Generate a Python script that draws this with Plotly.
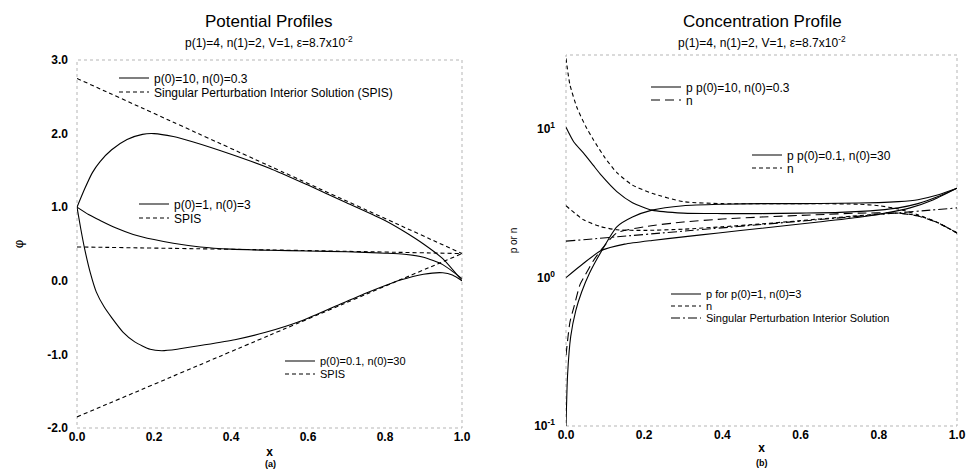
import plotly.graph_objects as go

# ---------------- data: left panel (potential phi) ----------------
xA = [0, 0.02, 0.04, 0.06, 0.09, 0.13, 0.17, 0.2, 0.25, 0.3, 0.4, 0.5, 0.6, 0.7, 0.8, 0.85, 0.9, 0.95, 1.0]
phiA = [1.0, 1.25, 1.47, 1.62, 1.78, 1.92, 1.99, 2.0, 1.96, 1.89, 1.72, 1.53, 1.30, 1.06, 0.82, 0.67, 0.5, 0.3, 0.0]
xA_spis = [0, 0.5, 1.0]
phiA_spis = [2.75, 1.56, 0.37]

xB = [0, 0.03, 0.06, 0.1, 0.146, 0.2, 0.25, 0.32, 0.4, 0.5, 0.6, 0.7, 0.8, 0.85, 0.9, 0.95, 1.0]
phiB = [1.0, 0.9, 0.82, 0.72, 0.63, 0.56, 0.51, 0.46, 0.43, 0.415, 0.405, 0.395, 0.375, 0.36, 0.32, 0.22, 0.03]
xB_spis = [0, 0.5, 1.0]
phiB_spis = [0.46, 0.42, 0.37]

xC = [0, 0.01, 0.02, 0.035, 0.05, 0.07, 0.09, 0.12, 0.15, 0.19, 0.22, 0.26, 0.32, 0.41, 0.49, 0.58, 0.665, 0.75, 0.84, 0.9, 0.95, 0.975, 1.0]
phiC = [1.0, 0.7, 0.43, 0.1, -0.15, -0.35, -0.5, -0.7, -0.83, -0.93, -0.95, -0.93, -0.88, -0.8, -0.7, -0.55, -0.36, -0.17, 0.01, 0.09, 0.11, 0.08, 0.0]
xC_spis = [0, 0.5, 1.0]
phiC_spis = [-1.85, -0.74, 0.37]

# ---------------- data: right panel (concentrations) ----------------
x_p1 = [0, 0.02, 0.045, 0.07, 0.09, 0.13, 0.17, 0.22, 0.3, 0.4, 0.5, 0.6, 0.7, 0.8, 0.85, 0.9, 0.95, 1.0]
p1 = [10.3, 8.2, 6.9, 5.7, 4.9, 3.8, 3.2, 2.85, 2.72, 2.7, 2.7, 2.72, 2.75, 2.85, 2.95, 3.15, 3.5, 4.0]
x_n1 = [0, 0.01, 0.02, 0.036, 0.05, 0.07, 0.095, 0.13, 0.2, 0.3, 0.4, 0.5, 0.64, 0.75, 0.85, 0.9, 0.95, 1.0]
n1 = [0.3, 0.5, 0.63, 0.9, 1.05, 1.3, 1.6, 2.0, 2.2, 2.37, 2.48, 2.56, 2.65, 2.72, 2.72, 2.6, 2.35, 2.0]

x_p2 = [0, 0.004, 0.012, 0.025, 0.04, 0.06, 0.087, 0.13, 0.17, 0.22, 0.3, 0.4, 0.5, 0.6, 0.7, 0.8, 0.85, 0.9, 0.95, 1.0]
p2 = [0.1, 0.22, 0.4, 0.6, 0.8, 1.07, 1.45, 2.2, 2.56, 2.85, 3.05, 3.12, 3.15, 3.15, 3.17, 3.2, 3.25, 3.35, 3.6, 4.0]
x_n2 = [0, 0.01, 0.028, 0.05, 0.07, 0.1, 0.13, 0.17, 0.22, 0.3, 0.4, 0.5, 0.64, 0.75, 0.8, 0.85, 0.9, 0.95, 1.0]
n2 = [30.0, 20.0, 14.0, 10.5, 8.5, 6.4, 5.1, 4.2, 3.7, 3.25, 3.15, 3.15, 3.15, 3.12, 3.05, 2.9, 2.65, 2.35, 2.0]

x_p3 = [0, 0.045, 0.09, 0.15, 0.22, 0.3, 0.39, 0.5, 0.64, 0.75, 0.81, 0.88, 0.94, 1.0]
p3 = [1.0, 1.25, 1.52, 1.68, 1.78, 1.88, 2.0, 2.15, 2.36, 2.55, 2.7, 2.95, 3.35, 4.0]
x_n3 = [0, 0.045, 0.09, 0.13, 0.2, 0.3, 0.4, 0.5, 0.6, 0.7, 0.8, 0.85, 0.9, 0.95, 1.0]
n3 = [3.05, 2.45, 2.2, 2.1, 2.08, 2.12, 2.2, 2.3, 2.42, 2.55, 2.68, 2.72, 2.62, 2.35, 2.0]

x_spis = [0, 0.5, 1.0]
c_spis = [1.76, 2.28, 2.95]

# ---------------- labels ----------------
left_yticks = [-2, -1, 0, 1, 2, 3]
left_yticktext = ["-2.0", "-1.0", "0.0", "1.0", "2.0", "3.0"]
xticks = [0, 0.2, 0.4, 0.6, 0.8, 1.0]
xticktext = ["0.0", "0.2", "0.4", "0.6", "0.8", "1.0"]
right_yticks = [0.1, 1, 10]
right_yticktext = ["10<sup>-1</sup>", "10<sup>0</sup>", "10<sup>1</sup>"]

FONT = "Liberation Sans, Arial, sans-serif"
W, H = 968, 471

fig = go.Figure()

def add(x, y, name, dash, axes, legend):
    fig.add_trace(go.Scatter(
        x=x, y=y, name=name, mode="lines",
        line=dict(color="black", width=1.1, dash=dash, shape="spline", smoothing=0.6),
        xaxis=axes[0], yaxis=axes[1], legend=legend, showlegend=True))

SHORT = "4px,3px"
LONG = "9px,5px"
DASHDOT = "9px,3px,2px,3px"

L = ("x", "y")
R = ("x2", "y2")
add(xA, phiA, "p(0)=10, n(0)=0.3", "solid", L, "legend")
add(xA_spis, phiA_spis, "Singular Perturbation Interior Solution (SPIS)", SHORT, L, "legend2")
add(xB, phiB, "p(0)=1, n(0)=3", "solid", L, "legend3")
add(xB_spis, phiB_spis, "SPIS", SHORT, L, "legend4")
add(xC, phiC, "p(0)=0.1, n(0)=30", "solid", L, "legend5")
add(xC_spis, phiC_spis, "SPIS", SHORT, L, "legend6")

add(x_p1, p1, "p p(0)=10, n(0)=0.3", "solid", R, "legend7")
add(x_n1, n1, "n", LONG, R, "legend8")
add(x_p2, p2, "p p(0)=0.1, n(0)=30", "solid", R, "legend9")
add(x_n2, n2, "n", SHORT, R, "legend10")
add(x_p3, p3, "p for p(0)=1, n(0)=3", "solid", R, "legend11")
add(x_n3, n3, "n", SHORT, R, "legend12")
add(x_spis, c_spis, "Singular Perturbation Interior Solution", DASHDOT, R, "legend13")

# legend row positions: (left px, center-y px, font size)
leg_pos = {
    "legend": (114, 78, 12), "legend2": (114, 92, 12),
    "legend3": (134, 204, 12), "legend4": (134, 218, 12),
    "legend5": (280, 361, 11), "legend6": (280, 374, 11),
    "legend7": (646, 87, 12), "legend8": (646, 100, 12),
    "legend9": (747, 155, 12), "legend10": (747, 168, 12),
    "legend11": (666, 294, 11), "legend12": (666, 306, 11),
    "legend13": (666, 318, 11),
}
layout_legends = {}
for k, (px, py, fs) in leg_pos.items():
    layout_legends[k] = dict(
        x=px / W, y=1 - py / H, xanchor="left", yanchor="middle",
        bgcolor="rgba(0,0,0,0)", borderwidth=0,
        font=dict(family=FONT, size=fs, color="black"),
        itemwidth=30, tracegroupgap=0)

tickfont = dict(family=FONT, size=12, color="black", weight="bold")
titlefont = dict(family=FONT, size=12, color="black", weight="bold")

fig.update_layout(
    width=W, height=H,
    margin=dict(l=0, r=0, t=0, b=0, autoexpand=False),
    paper_bgcolor="white", plot_bgcolor="white",
    font=dict(family=FONT, color="black"),
    xaxis=dict(domain=[77 / W, 462 / W], range=[0, 1], tickvals=xticks, ticktext=xticktext,
               showgrid=False, zeroline=False, showline=False, ticks="", tickfont=tickfont,
               automargin=False, anchor="y", title=dict(text="x", font=titlefont, standoff=4)),
    yaxis=dict(domain=[1 - 428 / H, 1 - 60 / H], range=[-2, 3], tickvals=left_yticks,
               ticktext=left_yticktext, showgrid=False, zeroline=False, showline=False,
               ticks="", tickfont=tickfont, ticklabelstandoff=8, anchor="x", automargin=False,
               title=dict(text="\u03c6", font=dict(family=FONT, size=13, color="black"), standoff=20)),
    xaxis2=dict(domain=[566 / W, 957 / W], range=[0, 1], tickvals=xticks, ticktext=xticktext,
                showgrid=False, zeroline=False, showline=False, ticks="", tickfont=tickfont,
                automargin=False, anchor="y2", title=dict(text="x", font=titlefont, standoff=2)),
    yaxis2=dict(domain=[1 - 426 / H, 1 - 55 / H], type="log", range=[-1, 1.5],
                tickvals=right_yticks, ticktext=right_yticktext, showgrid=False,
                zeroline=False, showline=False, ticks="", tickfont=tickfont,
                ticklabelstandoff=10, anchor="x2", automargin=False,
                title=dict(text="p or n", font=dict(family=FONT, size=10, color="black"), standoff=14)),
    **layout_legends,
)

# faint dotted frames
for xr, yr in [("x domain", "y domain"), ("x2 domain", "y2 domain")]:
    fig.add_shape(type="rect", xref=xr, yref=yr, x0=0, x1=1, y0=0, y1=1,
                  line=dict(color="#b5b5b5", width=1, dash="dot"), layer="below")

def ann(text, x, y, size, bold=False):
    fig.add_annotation(text=text, x=x / W, y=1 - y / H, xref="paper", yref="paper",
                       xanchor="center", yanchor="middle", showarrow=False,
                       font=dict(family=FONT, size=size, color="black",
                                 weight="bold" if bold else "normal"))

sub = "p(1)=4, n(1)=2, V=1, \u03b5=8.7x10<sup>-2</sup>"
ann("Potential Profiles", 269, 22, 17)
ann(sub, 269, 42, 12)
ann("Concentration Profile", 762, 22, 17)
ann(sub, 762, 42, 12)
ann("(a)", 270, 464, 9, bold=True)
ann("(b)", 762, 463, 9, bold=True)

fig.write_html("out.html", config={"displayModeBar": False},
               post_script="document.body.style.margin='0px';document.body.style.overflow='hidden';")
